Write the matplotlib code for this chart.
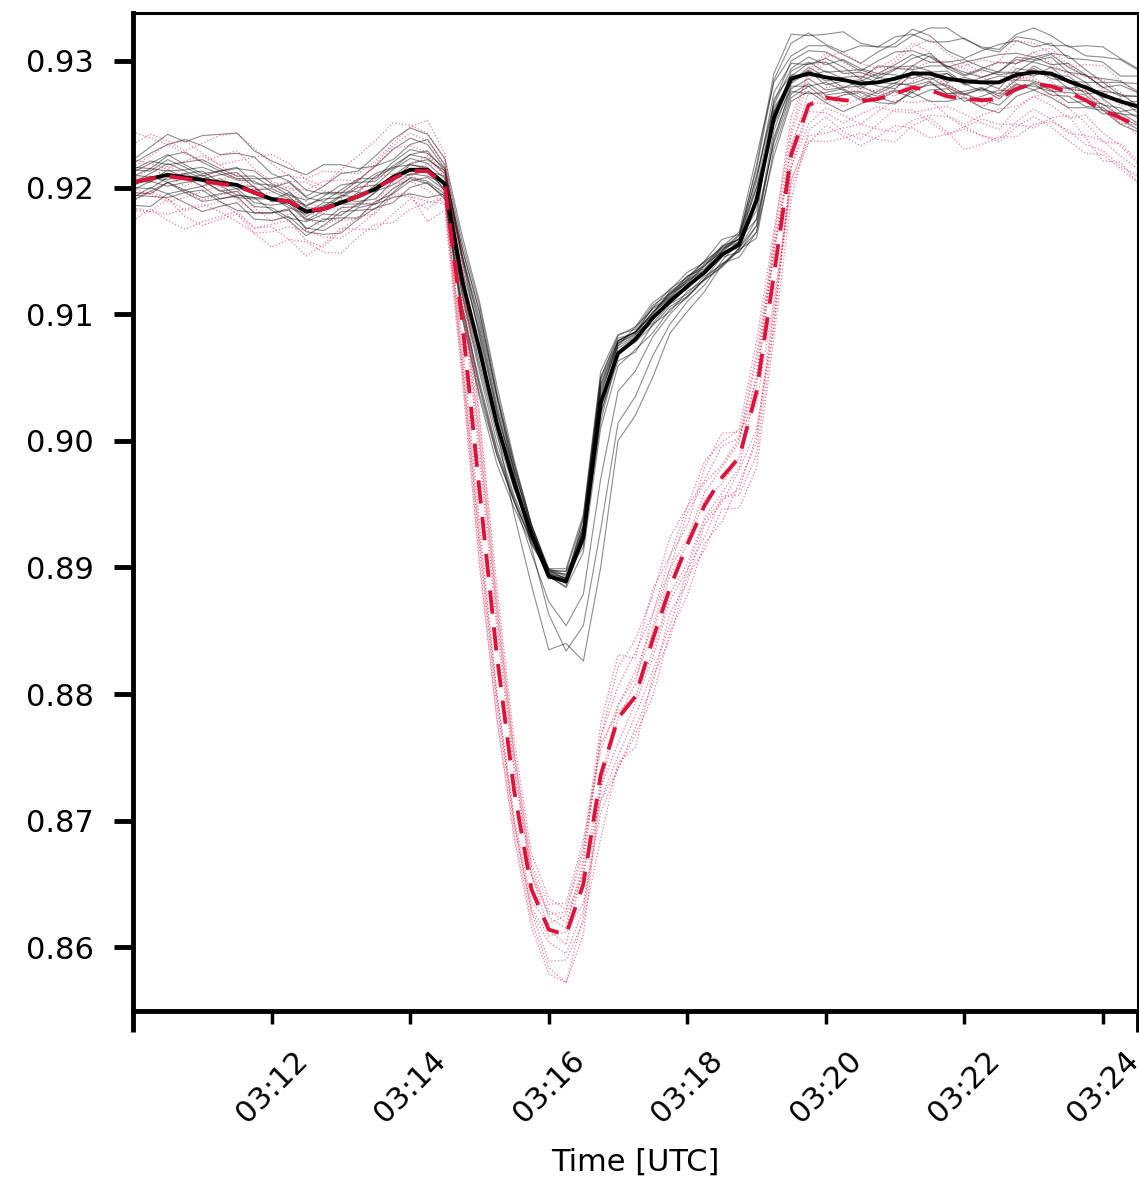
import numpy as np
import pandas as pd
import matplotlib
matplotlib.use("Agg")
import matplotlib.pyplot as plt
import matplotlib.dates as mdates

# 15 s samples, 03:10:00 - 03:24:30
times = pd.date_range("2021-01-01 03:10:00", "2021-01-01 03:24:30", freq="15s")

black_mean = [0.9204, 0.9207, 0.9210, 0.9208, 0.9206, 0.9204, 0.9202, 0.9196, 0.9191, 0.9189,
              0.9181, 0.9183, 0.9188, 0.9193, 0.9199, 0.9208, 0.9214, 0.9214,
              0.9203, 0.9127, 0.9072, 0.9014, 0.8967, 0.8926, 0.8893, 0.8889, 0.8924, 0.9030,
              0.9069, 0.9080, 0.9097, 0.9110, 0.9122, 0.9133, 0.9147, 0.9155, 0.9190, 0.9255,
              0.9286, 0.9290, 0.9287, 0.9285, 0.9282, 0.9283, 0.9286, 0.9290, 0.9290, 0.9286,
              0.9284, 0.9283, 0.9283, 0.9289, 0.9291, 0.9290, 0.9284, 0.9279, 0.9273, 0.9268, 0.9264]

red_mean = [0.9204, 0.9207, 0.9209, 0.9207, 0.9205, 0.9203, 0.9201, 0.9196, 0.9191, 0.9189,
            0.9182, 0.9183, 0.9188, 0.9193, 0.9199, 0.9207, 0.9213, 0.9213,
            0.9202, 0.9095, 0.8961, 0.8831, 0.8724, 0.8646, 0.8614, 0.8610, 0.8650, 0.8736,
            0.8781, 0.8798, 0.8843, 0.8884, 0.8918, 0.8949, 0.8971, 0.8987, 0.9039, 0.9131,
            0.9226, 0.9265, 0.9271, 0.9269, 0.9268, 0.9270, 0.9274, 0.9279, 0.9277, 0.9272,
            0.9270, 0.9269, 0.9270, 0.9278, 0.9282, 0.9280, 0.9275, 0.9269, 0.9261, 0.9255, 0.9249]

# member deviations from the mean, units of 1e-4
black_dev = [
    [5, 8, 3, 6, 10, 7, 4, 9, 6, 2, 5, 8, 4, 7, 3, 6, 9, 5,
     4, 20, 25, 20, 12, 5, 3, 1, 6, 12, 8, 5, 4, 6, 2, 5, 3, 7, 10, -5,
     6, 9, 4, 7, 11, 5, 8, 3, 6, 10, 7, 4, 9, 12, 8, 5, 7, 10, 6, 4, 8],
    [-8, -12, -6, -10, -14, -9, -5, -11, -7, -13, -8, -4, -10, -6, -12, -9, -7, -11,
     -10, -25, -30, -25, -15, -6, 2, 3, -2, -8, -6, -10, -5, -8, -4, -6, -9, -3, -15, -20,
     -12, -8, -14, -10, -6, -11, -9, -15, -7, -12, -10, -5, -13, -8, -11, -14, -9, -6, -12, -10, -7],
    [18, 25, 32, 28, 35, 38, 41, 33, 30, 26, 29, 35, 30, 22, 18, 14, 20, 24,
     15, 30, 35, 25, 15, 8, 5, 2, 10, 14, 9, 6, 8, 10, 7, 9, 12, 8, 25, 30,
     28, 32, 26, 22, 30, 28, 33, 31, 25, 29, 34, 27, 24, 30, 26, 22, 28, 25, 30, 33, 29],
    [-3, 2, -6, -1, 4, -2, -8, -4, 1, -5, -2, 3, -1, -6, -3, 2, -4, -1,
     6, 15, 10, -5, -25, -40, -58, -49, -98, -130, -69, -60, -47, -25, -20, -15, -8, -3, -20, -10,
     -4, 2, -6, -1, 3, -3, -8, 0, -5, 4, -2, -7, 1, -4, 5, -1, -6, 2, -3, -8, -2],
    [10, 6, 12, 8, 3, 9, 14, 7, 11, 5, 9, 13, 8, 4, 10, 7, 12, 9,
     8, 25, 30, 22, 8, -10, -30, -55, -70, -100, -55, -45, -30, -18, -12, -10, -5, 2, 15, 20,
     12, 7, 15, 10, 4, 13, 9, 6, 14, 10, 5, 11, 16, 9, 12, 7, 14, 10, 6, 13, 11],
    [-12, -7, -15, -10, -5, -13, -9, -16, -11, -6, -14, -8, -12, -17, -10, -13, -9, -6,
     -5, -20, -28, -22, -14, -15, -20, -35, -45, -60, -30, -25, -15, -10, -8, -6, -10, -4, -30, -25,
     -15, -10, -18, -12, -7, -14, -10, -19, -13, -8, -16, -11, -6, -13, -9, -17, -12, -15, -10, -14, -18],
    [2, -3, 4, 0, -5, 3, -1, 5, -2, 1, -4, 2, 6, -1, 3, -3, 4, 1,
     -2, -6, -10, -5, 0, 4, 6, 5, -8, 5, 10, 6, 3, 8, 5, 2, 6, 4, -15, 15,
     3, -2, 5, 1, -4, 4, -1, 6, 2, -3, 3, 0, -5, 5, 1, -2, 4, -1, 3, 6, 1],
    [15, 20, 24, 30, 27, 22, 25, 28, 20, 16, 12, 18, 23, 20, 26, 30, 33, 28,
     20, 35, 38, 30, 18, 8, 4, 8, 15, 20, 14, 10, 12, 9, 11, 8, 6, 10, 35, 28,
     18, 22, 25, 20, 16, 24, 28, 35, 30, 22, 18, 25, 30, 27, 20, 24, 18, 22, 26, 20, 24],
    [-18, -22, -15, -20, -25, -19, -14, -21, -17, -12, -16, -20, -24, -18, -15, -20, -14, -10,
     -12, -30, -38, -32, -20, -8, 3, 6, 0, -10, 4, 2, -4, -2, -6, -3, -8, -5, -25, -30,
     -18, -14, -20, -25, -16, -12, -19, -15, -22, -18, -13, -20, -24, -17, -14, -19, -21, -16, -12, -18, -20],
    [6, 1, -4, 3, 7, 0, -3, 2, 8, 4, -1, 5, 0, 3, -2, 1, 5, 8,
     10, 18, 12, 8, 10, 6, 2, 0, 15, 20, 12, 5, 8, 4, 6, 9, 5, 2, 10, 8,
     -3, 5, 0, -6, 2, 7, 3, -4, 1, 6, -2, 4, 8, 2, -3, 5, 0, -5, 2, -1, 4],
    [-6, -2, -9, -4, 0, -7, -3, -8, -5, -1, -6, -10, -4, -8, -2, -6, -3, -5,
     0, 8, 15, 10, 4, 2, -2, 3, 10, 18, 10, 6, 2, 5, 8, 3, 0, -2, 5, -5,
     -8, -4, -10, -6, -2, -9, -5, -8, -3, -7, -11, -5, -9, -4, -7, -10, -6, -3, -8, -5, -9],
    [10, 14, 8, 12, 16, 11, 7, 13, 9, 15, 11, 6, 10, 14, 8, 12, 16, 13,
     12, 20, 18, 12, 6, 2, 0, -4, 5, 8, 6, 10, 7, 3, 5, 7, 4, 8, 18, 10,
     8, 13, 10, 16, 12, 7, 11, 15, 9, 13, 17, 12, 8, 14, 10, 15, 11, 9, 13, 16, 12],
    [-10, -14, -18, -12, -8, -15, -20, -16, -11, -7, -13, -17, -14, -9, -12, -16, -19, -22,
     -8, -28, -35, -25, -15, -4, 5, 4, -5, -15, 0, -2, -6, -4, -8, -5, -2, -6, -20, -18,
     -6, -10, -4, -8, -13, -7, -3, -10, -6, -12, -8, -4, -11, -7, -14, -9, -5, -11, -15, -9, -13],
    [0, 4, 9, 5, 1, 6, 10, 4, -1, 7, 3, 0, 5, 9, 12, 8, 4, 2,
     -6, -10, -14, -9, -5, 3, 5, 8, -3, -5, 8, 4, 0, 3, -2, 1, -1, 3, -8, 5,
     2, 8, 12, 5, 9, 3, 7, 12, 16, 8, 4, 10, 6, 2, 9, 13, 7, 4, 10, 5, 8],
    [-4, -8, -2, 3, -1, -6, -10, -5, 0, -3, -7, -1, 2, -4, -8, -3, 1, -2,
     -4, -12, -18, -15, -10, -3, 4, 2, 6, 10, 6, 3, 5, 2, 4, 1, 3, 5, 0, 5,
     -2, 3, -3, 2, 6, 0, -4, 2, -1, 4, -3, 1, 5, -2, 3, -4, 0, 4, -2, 2, -5],
    [8, 12, 16, 10, 5, 9, 13, 17, 12, 8, 4, 10, 14, 11, 6, 9, 12, 15,
     10, 25, 30, 22, 15, 8, 6, 10, 18, 25, 15, 8, 10, 6, 8, 5, 7, 4, 20, 12,
     14, 18, 20, 15, 10, 17, 21, 18, 13, 9, 15, 19, 22, 17, 12, 16, 20, 14, 10, 15, 18],
    [-14, -10, -6, -12, -17, -13, -8, -4, -9, -15, -19, -13, -7, -11, -16, -12, -6, -9,
     -8, -22, -25, -20, -12, -6, 0, -5, -12, -20, -10, -8, -12, -6, -9, -5, -7, -10, -25, -15,
     -10, -16, -12, -7, -11, -16, -20, -13, -9, -5, -10, -14, -18, -12, -8, -13, -17, -11, -7, -12, -15],
    [12, 8, 15, 20, 14, 9, 5, 11, 16, 21, 17, 12, 7, 13, 18, 22, 25, 20,
     12, 18, 22, 15, 10, 5, 2, -2, 8, 15, 10, 6, 4, 7, 3, 6, 2, 5, 28, 35,
     35, 30, 34, 38, 32, 28, 25, 30, 36, 40, 33, 28, 26, 32, 35, 30, 27, 33, 38, 34, 30],
]

red_dev = [
    [12, 18, 25, 20, 15, 22, 28, 19, 14, 10, 16, 22, 18, 12, 20, 26, 30, 24,
     15, 35, 45, 40, 30, 18, 10, 5, 20, 30, 25, 35, 20, 15, 25, 18, 10, 15, 30, 25,
     15, 20, 28, 22, 18, 25, 20, 15, 22, 28, 24, 18, 12, 20, 25, 18, 14, 20, 16, 10, 15],
    [-20, -26, -18, -30, -35, -28, -22, -32, -38, -30, -25, -34, -40, -32, -28, -35, -30, -25,
     -10, -40, -55, -50, -35, -25, -30, -38, -25, -20, -40, -30, -45, -35, -40, -30, -35, -20, -40, -30,
     -25, -30, -22, -28, -35, -30, -25, -32, -38, -30, -24, -28, -34, -30, -26, -32, -38, -42, -35, -40, -45],
    [5, -2, 8, 3, -5, 2, 10, 4, -3, 6, 1, -4, 3, 8, 2, -2, 5, 12,
     8, 25, 35, 30, 20, 10, 12, 18, 25, 40, 50, 30, 40, 25, 30, 20, 25, 15, 10, 20,
     5, 10, 2, -5, 3, 8, 1, -3, 6, 10, 4, -2, 5, 9, 3, -4, 2, 7, 0, -5, 3],
    [-8, -12, -5, -10, -15, -9, -4, -12, -18, -10, -6, -14, -10, -5, -12, -8, -3, -10,
     -5, -30, -45, -40, -28, -15, -5, 2, -15, -30, -40, -25, -35, -20, -30, -15, -20, -10, -30, -40,
     -10, -15, -8, -12, -18, -10, -5, -12, -8, -15, -20, -12, -8, -14, -10, -6, -12, -18, -25, -20, -28],
    [30, 35, 28, 22, 30, 38, 42, 35, 28, 20, 25, 30, 24, 18, 22, 28, 35, 40,
     25, 45, 60, 55, 40, 28, 25, 20, 30, 20, 10, 15, 5, 10, 0, 5, -5, 0, 15, 30,
     30, 25, 32, 38, 30, 24, 28, 35, 30, 22, 26, 32, 28, 20, 25, 30, 22, 18, 24, 20, 15],
    [-15, -10, -18, -25, -20, -14, -22, -28, -20, -15, -24, -30, -22, -16, -20, -12, -18, -40,
     -20, -45, -60, -50, -38, -30, -35, -38, -40, -10, 0, 10, 20, 25, 15, 30, 35, 20, -10, -20,
     -20, -28, -35, -30, -25, -32, -38, -30, -22, -28, -40, -35, -30, -38, -32, -28, -30, -35, -32, -38, -40],
    [2, 8, 0, -6, 4, 10, 6, -2, 5, 12, 7, 0, -5, 3, 9, 4, -1, 6,
     12, 20, 25, 22, 15, 12, 15, 10, 8, -5, 10, 20, 10, 15, 5, 10, 8, 12, 25, 15,
     8, 2, -5, 4, 10, 6, -2, 5, 12, 8, 0, -6, 3, 9, 5, -3, 4, 8, 2, -4, 0],
    [-30, -24, -35, -40, -32, -26, -20, -28, -22, -30, -36, -28, -20, -26, -32, -28, -22, -30,
     -8, -25, -35, -30, -20, -10, 5, 15, 10, -20, -30, -15, -25, -30, -20, -25, -15, -30, -50, -40,
     -10, -5, -12, -18, -10, -6, -14, -20, -15, -8, -12, -18, -24, -16, -10, -15, -20, -12, -18, -22, -30],
    [18, 12, 6, 14, 20, 15, 8, 2, 10, 16, 22, 14, 8, 12, 18, 24, 20, 15,
     5, 50, 55, 45, 30, 20, 20, 25, 35, 25, 5, 0, -10, -5, -15, -10, -12, -8, 5, 20,
     -5, 0, 8, 12, 5, -2, 4, 10, 15, 8, 2, -5, 0, 6, 12, 4, -3, 2, 8, 0, -8],
    [-5, -12, -20, -15, -8, -2, -10, -16, -12, -5, 0, -8, -14, -18, -10, -4, -8, -15,
     -15, -35, -40, -35, -25, -18, -25, -20, -30, -50, -35, -40, -30, -40, -25, -35, -25, -40, -60, -50,
     -35, -20, -15, -25, -30, -20, -12, -18, -25, -30, -22, -15, -20, -28, -35, -25, -18, -30, -40, -35, -45],
    [40, 32, 25, 30, 22, 15, 20, 28, 35, 30, 24, 18, 26, 32, 38, 44, 36, 30,
     20, 30, 40, 35, 25, 12, 0, -8, 15, 30, 40, 45, 35, 40, 30, 35, 28, 22, 40, 35,
     20, 28, 35, 30, 22, 18, 25, 32, 40, 34, 28, 22, 30, 38, 32, 26, 20, 28, 35, 30, 25],
    [-22, -26, -30, -24, -18, -22, -28, -32, -26, -20, -16, -22, -28, -24, -18, -14, -20, -24,
     -15, -15, -25, -30, -25, -18, -10, -15, -20, -10, -20, -5, -15, -10, -20, -12, -18, -25, -35, -25,
     -20, -24, -28, -22, -18, -24, -30, -26, -20, -16, -22, -28, -32, -26, -20, -26, -32, -28, -24, -30, -34],
]

plt.rcParams["font.family"] = "DejaVu Sans"
fig = plt.figure(figsize=(11.39, 11.8), dpi=100)
ax = fig.add_axes([0.1168, 0.1435, 0.882, 0.8457])

bm = np.array(black_mean)
rm = np.array(red_mean)

for dev in black_dev:
    ax.plot(times, bm + np.array(dev) * 1e-4, color="k", lw=0.8, alpha=0.45)
for dev in red_dev:
    ax.plot(times, rm + np.array(dev) * 1e-4, color="crimson", lw=0.9, ls=":", alpha=0.55)

ax.plot(times, bm, color="k", lw=2.8)
ax.plot(times, rm, color="crimson", lw=2.8, ls="--", dashes=(6, 3.5))

ax.set_xlim(times[0], times[-1])
ax.set_ylim(0.8550, 0.9338)
ax.set_yticks([0.86, 0.87, 0.88, 0.89, 0.90, 0.91, 0.92, 0.93])

ax.xaxis.set_major_locator(mdates.MinuteLocator(byminute=range(12, 60, 2)))
ax.xaxis.set_major_formatter(mdates.DateFormatter("%H:%M"))
ax.set_xticks([times[0], times[-1]], minor=True)
ax.xaxis.set_minor_formatter(plt.NullFormatter())

for lbl in ax.get_xticklabels():
    lbl.set_rotation(45)

ax.tick_params(axis="y", which="major", length=14, width=3.5, labelsize=22, pad=14)
ax.tick_params(axis="x", which="major", length=9, width=2.5, labelsize=22, pad=16)
ax.tick_params(axis="x", which="minor", length=15, width=3.5)

for s in ["left", "bottom"]:
    ax.spines[s].set_linewidth(3.5)
for s in ["top", "right"]:
    ax.spines[s].set_linewidth(2.2)

ax.set_xlabel("Time [UTC]", fontsize=22, labelpad=14)

fig.savefig("out.png", dpi=100)
